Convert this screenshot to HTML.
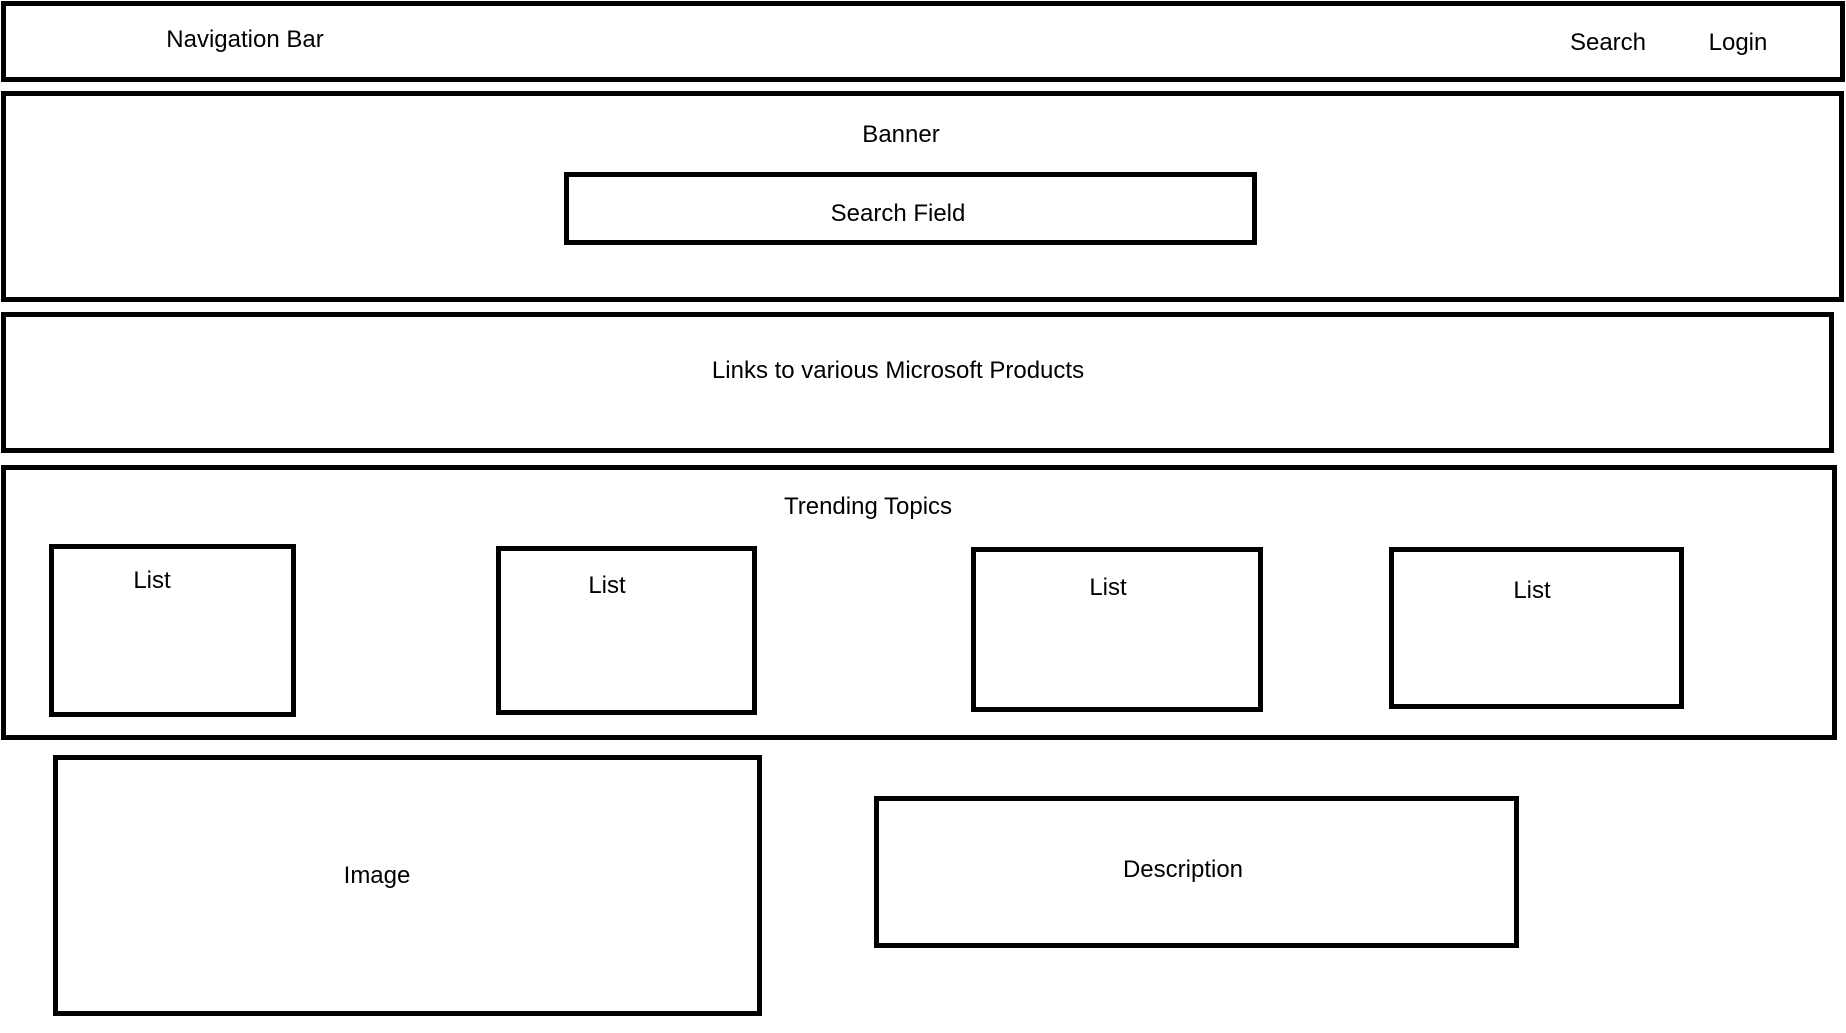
<!DOCTYPE html>
<html><head><meta charset="utf-8"><style>
html,body{margin:0;padding:0;background:#fff;}
body{width:1846px;height:1033px;position:relative;overflow:hidden;font-family:"Liberation Sans",sans-serif;font-size:24px;color:#000;}
.b{position:absolute;border:5px solid #000;box-sizing:border-box;}
.t{position:absolute;transform:translate(-50%,-50%);white-space:nowrap;}
</style></head><body>
<div class="b" style="left:1px;top:1px;width:1844px;height:81px"></div>
<div class="b" style="left:1px;top:91px;width:1843px;height:211px"></div>
<div class="b" style="left:564px;top:172px;width:693px;height:73px"></div>
<div class="b" style="left:1px;top:312px;width:1833px;height:141px"></div>
<div class="b" style="left:1px;top:465px;width:1836px;height:275px"></div>
<div class="b" style="left:49px;top:544px;width:247px;height:173px"></div>
<div class="b" style="left:496px;top:546px;width:261px;height:169px"></div>
<div class="b" style="left:971px;top:547px;width:292px;height:165px"></div>
<div class="b" style="left:1389px;top:547px;width:295px;height:162px"></div>
<div class="b" style="left:53px;top:755px;width:709px;height:261px"></div>
<div class="b" style="left:874px;top:796px;width:645px;height:152px"></div>

<div class="t" style="left:245px;top:40px">Navigation Bar</div>
<div class="t" style="left:1608px;top:43px">Search</div>
<div class="t" style="left:1738px;top:43px">Login</div>
<div class="t" style="left:901px;top:135px">Banner</div>
<div class="t" style="left:898px;top:214px">Search Field</div>
<div class="t" style="left:898px;top:371px">Links to various Microsoft Products</div>
<div class="t" style="left:868px;top:507px">Trending Topics</div>
<div class="t" style="left:152px;top:581px">List</div>
<div class="t" style="left:607px;top:586px">List</div>
<div class="t" style="left:1108px;top:588px">List</div>
<div class="t" style="left:1532px;top:591px">List</div>
<div class="t" style="left:377px;top:876px">Image</div>
<div class="t" style="left:1183px;top:870px">Description</div>
</body></html>
